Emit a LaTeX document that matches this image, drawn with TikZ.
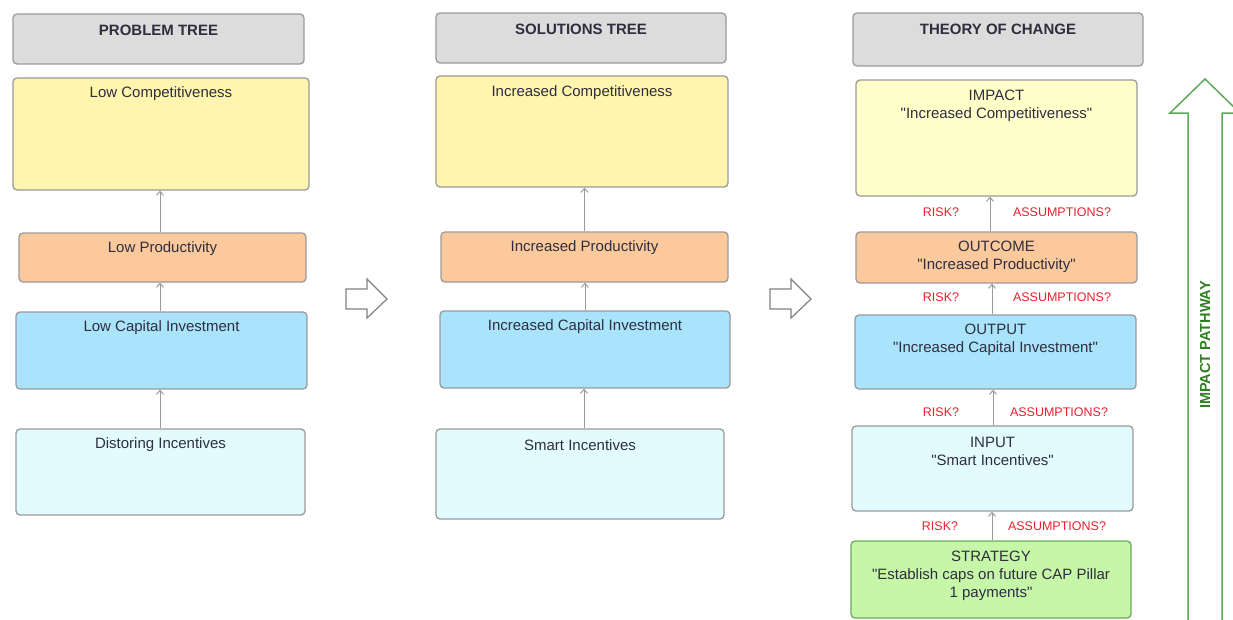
\documentclass[tikz,border=0pt]{standalone}
\usepackage{fontspec}
\setmainfont{Liberation Sans}
\usetikzlibrary{arrows.meta}

% straight double quote, set as a glyph so that no ligature mapping curls it
\newcommand{\dq}{\XeTeXglyph\XeTeXcharglyph"0022\relax}

\definecolor{edgegray}{HTML}{9A9A9A}
\definecolor{headfill}{HTML}{DCDCDC}
\definecolor{yellowfill}{HTML}{FFF5AE}
\definecolor{paleyellow}{HTML}{FFFFCA}
\definecolor{orangefill}{HTML}{FCC99C}
\definecolor{bluefill}{HTML}{A9E4FC}
\definecolor{cyanfill}{HTML}{E2FBFF}
\definecolor{greenfill}{HTML}{C6F6A8}
\definecolor{greenedge}{HTML}{6CAB5C}
\definecolor{pathgreen}{HTML}{5FA85A}
\definecolor{pathtext}{HTML}{2F7F22}
\definecolor{bodytext}{HTML}{2E2E3E}
\definecolor{risktext}{HTML}{E8202E}

\begin{document}
\begin{tikzpicture}[x=1pt,y=-1pt,
  box/.style={draw=edgegray, line width=1.3pt, rounded corners=4pt, inner sep=0pt},
  headbox/.style={box, fill=headfill},
  headtxt/.style={font=\fontsize{15}{18}\selectfont\bfseries, text=bodytext, inner sep=0pt},
  txt/.style={font=\fontsize{15}{18}\selectfont, text=bodytext, align=center, inner sep=0pt},
  note/.style={font=\fontsize{12.5}{14}\selectfont, text=risktext, inner sep=0pt},
  conn/.style={draw=edgegray, line width=1pt, -{Straight Barb[length=4pt,width=7pt]}},
  hollow/.style={draw=gray, line width=1.2pt, fill=white, line join=miter}
]
\useasboundingbox (0,0) rectangle (1233,619);

% ---------- Problem tree ----------
\node[headbox, minimum width=291pt, minimum height=50pt] (h1) at (158.5,39) {};
\node[headtxt] (h1t) at (158.5,30) {PROBLEM TREE};
\node[box, fill=yellowfill, minimum width=296pt, minimum height=112pt] (pc) at (161,134) {};
\node[txt] (pct) at (161,94) {Low Competitiveness};
\node[box, fill=orangefill, minimum width=287pt, minimum height=49pt] (pp) at (162.5,257.5) {};
\node[txt] (ppt) at (162.5,249) {Low Productivity};
\node[box, fill=bluefill, minimum width=291pt, minimum height=77pt] (pi) at (161.5,350.5) {};
\node[txt] (pit) at (161.5,328) {Low Capital Investment};
\node[box, fill=cyanfill, minimum width=289pt, minimum height=86pt] (pd) at (160.5,472) {};
\node[txt] (pdt) at (160.5,445) {Distoring Incentives};

\draw[conn] ([xshift=-2.5pt]pp.north) -- ([xshift=-2.5pt]pp.north |- pc.south);
\draw[conn] ([xshift=-1.5pt]pi.north) -- ([xshift=-1.5pt]pi.north |- pp.south);
\draw[conn] ([xshift=-0.5pt]pd.north) -- ([xshift=-0.5pt]pd.north |- pi.south);

% ---------- Solutions tree ----------
\node[headbox, minimum width=290pt, minimum height=50pt] (h2) at (581,38) {};
\node[headtxt] (h2t) at (581,29) {SOLUTIONS TREE};
\node[box, fill=yellowfill, minimum width=292pt, minimum height=111pt] (sc) at (582,131.5) {};
\node[txt] (sct) at (582,93) {Increased Competitiveness};
\node[box, fill=orangefill, minimum width=287pt, minimum height=50pt] (sp) at (584.5,257) {};
\node[txt] (spt) at (584.5,248) {Increased Productivity};
\node[box, fill=bluefill, minimum width=290pt, minimum height=77pt] (si) at (585,349.5) {};
\node[txt] (sit) at (585,327) {Increased Capital Investment};
\node[box, fill=cyanfill, minimum width=288pt, minimum height=90pt] (ss) at (580,474) {};
\node[txt] (sst) at (580,445) {Smart Incentives};

\draw[conn] (sp.north) -- (sp.north |- sc.south);
\draw[conn] (si.north) -- (si.north |- sp.south);
\draw[conn] ([xshift=4pt]ss.north) -- ([xshift=4pt]ss.north |- si.south);

% ---------- Theory of change ----------
\node[headbox, minimum width=290pt, minimum height=53pt] (h3) at (998,39.5) {};
\node[headtxt] (h3t) at (998,29) {THEORY OF CHANGE};
\node[box, fill=paleyellow, minimum width=281pt, minimum height=116pt] (ti) at (996.5,138) {};
\node[txt] (tit) at (996.5,106) {IMPACT\\\dq Increased Competitiveness\dq};
\node[box, fill=orangefill, minimum width=281pt, minimum height=51pt] (to) at (996.5,257.5) {};
\node[txt] (tot) at (996.5,256.5) {OUTCOME\\\dq Increased Productivity\dq};
\node[box, fill=bluefill, minimum width=281pt, minimum height=74pt] (tu) at (995.5,352) {};
\node[txt] (tut) at (995.5,340) {OUTPUT\\\dq Increased Capital Investment\dq};
\node[box, fill=cyanfill, minimum width=281pt, minimum height=85pt] (tn) at (992.5,468.5) {};
\node[txt] (tnt) at (992.5,451) {INPUT\\\dq Smart Incentives\dq};
\node[box, draw=greenedge, fill=greenfill, minimum width=280pt, minimum height=77pt] (ts) at (991,579.5) {};
\node[txt] (tst) at (991,576) {STRATEGY\\\dq Establish caps on future CAP Pillar\\1 payments\dq};

\draw[conn] ([xshift=-6.5pt]to.north) -- ([xshift=-6.5pt]to.north |- ti.south);
\draw[conn] ([xshift=-3.5pt]tu.north) -- ([xshift=-3.5pt]tu.north |- to.south);
\draw[conn] ([xshift=0.5pt]tn.north) -- ([xshift=0.5pt]tn.north |- tu.south);
\draw[conn] ([xshift=1pt]ts.north) -- ([xshift=1pt]ts.north |- tn.south);

\node[note] (r1) at (941,212) {RISK?};
\node[note] (a1) at (1062,212) {ASSUMPTIONS?};
\node[note] (r2) at (941,297) {RISK?};
\node[note] (a2) at (1062,297) {ASSUMPTIONS?};
\node[note] (r3) at (941,412) {RISK?};
\node[note] (a3) at (1059,412) {ASSUMPTIONS?};
\node[note] (r4) at (940,526) {RISK?};
\node[note] (a4) at (1057,526) {ASSUMPTIONS?};

% ---------- Hollow arrows between the trees ----------
\draw[hollow] (346,289) -- (367,289) -- (367,279) -- (387,299) -- (367,318) -- (367,309) -- (346,309) -- cycle;
\draw[hollow] (770,289) -- (791,289) -- (791,279) -- (811,299) -- (791,318) -- (791,309) -- (770,309) -- cycle;

% ---------- Impact pathway arrow ----------
\draw[draw=pathgreen, line width=1.5pt, line join=miter]
  (1188,630) -- (1188,113) -- (1170,113) -- (1205,79) -- (1240,113) -- (1222,113) -- (1222,630);
\node[font=\fontsize{14.5}{16}\selectfont\bfseries, text=pathtext, rotate=90, inner sep=0pt] (path) at (1205,345) {IMPACT PATHWAY};

\end{tikzpicture}
\end{document}
